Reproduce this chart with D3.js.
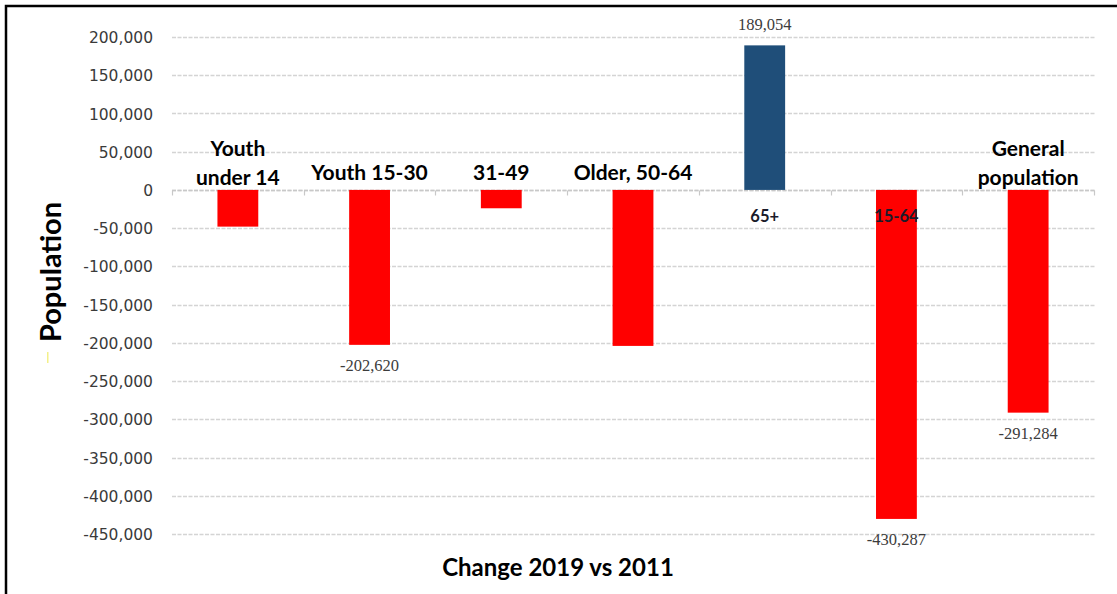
<!DOCTYPE html>
<html>
<head>
<meta charset="utf-8">
<script src="https://cdn.jsdelivr.net/npm/d3@7"></script>
<style>
  html, body { margin: 0; padding: 0; background: #fff; }
  svg { display: block; }
</style>
</head>
<body>
<svg id="chart" width="1117" height="594"></svg>
<script>
// ---- data ----
const categories = ["Youth under 14", "Youth 15-30", "31-49", "Older, 50-64", "65+", "15-64", "General population"];
const categoryLines = [["Youth", "under 14"], ["Youth 15-30"], ["31-49"], ["Older, 50-64"], ["65+"], ["15-64"], ["General", "population"]];
const values = [-48000, -202620, -24000, -204000, 189054, -430287, -291284];
const valueLabels = [null, "-202,620", null, null, "189,054", "-430,287", "-291,284"];
const yTicks = [200000, 150000, 100000, 50000, 0, -50000, -100000, -150000, -200000, -250000, -300000, -350000, -400000, -450000];
const yTitle = "Population";
const xTitle = "Change 2019 vs 2011";

// table built from the arrays
const rows = categories.map((c, i) => ({ cat: c, lines: categoryLines[i], value: values[i], label: valueLabels[i] }));

// ---- layout ----
const svg = d3.select("#chart");
const W = 1117, H = 594;
const plot = { left: 172, right: 1094, top: 37, bottom: 534 };

const x = d3.scaleBand().domain(categories).range([plot.left, plot.right]).paddingInner(0.69).paddingOuter(0.345);
const y = d3.scaleLinear().domain([-450000, 200000]).range([plot.bottom, plot.top]);
const fmt = d => d3.format(",")(d).replace("\u2212", "-");

// frame
svg.append("rect").attr("x", 6).attr("y", 6).attr("width", W + 20).attr("height", H + 20)
  .attr("fill", "none").attr("stroke", "#000").attr("stroke-width", 2.5);

// gridlines
svg.append("g").selectAll("line").data(yTicks).join("line")
  .attr("x1", plot.left).attr("x2", plot.right + 1)
  .attr("y1", d => Math.round(y(d)) + 0.5).attr("y2", d => Math.round(y(d)) + 0.5)
  .attr("stroke", "#d4d4d4").attr("stroke-width", 1.5).attr("stroke-dasharray", "4,1.5");

// y axis labels
const yAxis = d3.axisLeft(y).tickValues(yTicks).tickFormat(fmt).tickSize(0).tickPadding(0);
const gy = svg.append("g").attr("transform", `translate(153,0)`).call(yAxis);
gy.select(".domain").remove();
gy.selectAll("text").attr("font-family", "DejaVu Sans, Verdana, sans-serif").attr("font-size", 15.5)
  .attr("fill", "#3a3a3a").attr("dy", "0.36em");

// zero axis line with boundary ticks
const zeroY = Math.round(y(0)) + 0.5;
svg.append("line").attr("x1", plot.left).attr("x2", plot.right + 1).attr("y1", zeroY).attr("y2", zeroY)
  .attr("stroke", "#c8c8c8").attr("stroke-width", 1.5).attr("stroke-dasharray", "4,1.5");
const bounds = categories.map(c => x(c) - x.step() * x.paddingInner() / 2).concat([plot.right]);
bounds[0] = plot.left;
svg.append("g").selectAll("line").data(bounds).join("line")
  .attr("x1", d => Math.round(d) + 0.5).attr("x2", d => Math.round(d) + 0.5)
  .attr("y1", zeroY).attr("y2", zeroY + 5).attr("stroke", "#c8c8c8").attr("stroke-width", 1.2);

// bars
svg.append("g").selectAll("rect").data(rows).join("rect")
  .attr("x", d => x(d.cat))
  .attr("width", x.bandwidth())
  .attr("y", d => y(Math.max(0, d.value)))
  .attr("height", d => Math.abs(y(d.value) - y(0)))
  .attr("fill", d => d.value >= 0 ? "#1f4e79" : "#ff0000");

// value labels
svg.append("g").selectAll("text").data(rows.filter(d => d.label !== null)).join("text")
  .attr("x", d => x(d.cat) + x.bandwidth() / 2)
  .attr("y", d => d.value >= 0 ? y(d.value) - 15 : y(d.value) + 26)
  .attr("text-anchor", "middle")
  .attr("font-family", "Liberation Serif, Times New Roman, serif")
  .attr("font-size", 16.5).attr("fill", "#3c3c3c")
  .text(d => d.label);

// category labels
const inside = new Set(["65+", "15-64"]);
const catG = svg.append("g");
rows.forEach(r => {
  const cx = x(r.cat) + x.bandwidth() / 2;
  if (inside.has(r.cat)) {
    catG.append("text").attr("x", cx).attr("y", 222).attr("text-anchor", "middle")
      .attr("font-family", "Lato, sans-serif").attr("font-weight", 700).attr("font-size", 16.5)
      .attr("fill", "#1b1b2a").text(r.cat);
  } else {
    const base = r.lines.length === 2 ? 156 : 180;
    r.lines.forEach((ln, k) => {
      catG.append("text").attr("x", cx).attr("y", base + k * 29).attr("text-anchor", "middle")
        .attr("font-family", "Lato, sans-serif").attr("font-weight", 700).attr("font-size", 21)
        .attr("fill", "#000").text(ln);
    });
  }
});

// axis titles
svg.append("text").attr("transform", "translate(61,272) rotate(-90)").attr("text-anchor", "middle")
  .attr("font-family", "Lato, sans-serif").attr("font-weight", 700).attr("font-size", 29)
  .attr("fill", "#000").text(yTitle);
svg.append("rect").attr("x", 47).attr("y", 352).attr("width", 1.5).attr("height", 11).attr("fill", "#f3f08a");

svg.append("text").attr("x", 558).attr("y", 576).attr("text-anchor", "middle")
  .attr("font-family", "Lato, sans-serif").attr("font-weight", 700).attr("font-size", 24)
  .attr("fill", "#000").text(xTitle);
</script>
</body>
</html>
